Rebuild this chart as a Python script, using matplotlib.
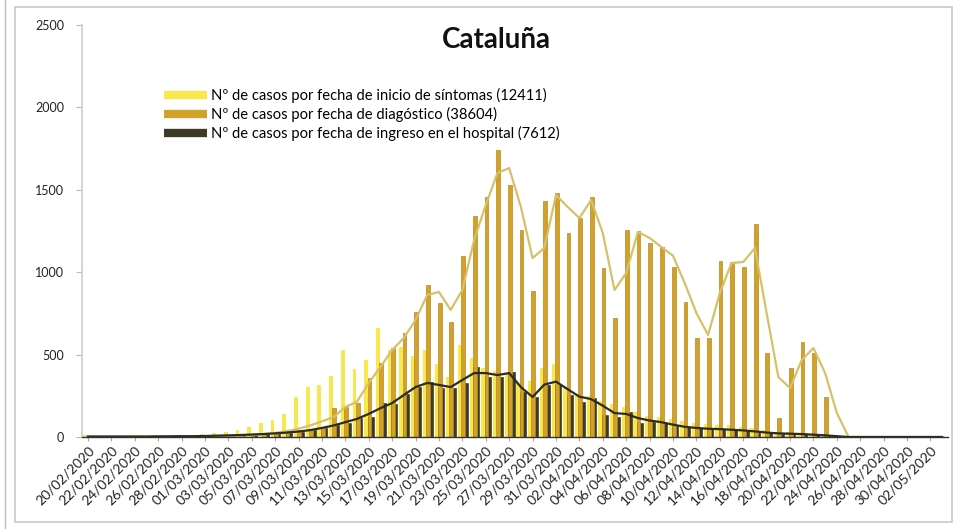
import numpy as np
import pandas as pd
from matplotlib import pyplot as plt
from matplotlib.lines import Line2D
from matplotlib.patches import Rectangle

plt.rcParams['font.family'] = ['Lato', 'DejaVu Sans']

# daily categories 20/02/2020 .. 03/05/2020
dates = pd.date_range('2020-02-20', '2020-05-03', freq='D')
date_labels = [d.strftime('%d/%m/%Y') for d in dates]

# Nº de casos por fecha de inicio de síntomas
sintomas = [15, 5, 3, 3, 4, 5, 6, 8, 10, 14,
            18, 24, 30, 42, 60, 85, 103, 140, 243, 303,
            316, 370, 528, 415, 467, 660, 530, 545, 490, 530,
            440, 365, 560, 480, 420, 400, 380, 330, 340, 420,
            440, 300, 260, 250, 220, 200, 180, 150, 130, 120,
            110, 95, 85, 80, 75, 70, 60, 55, 40, 30,
            28, 25, 20, 15, 10, 5, 0, 0, 0, 0,
            0, 0, 0, 0]

# Nº de casos por fecha de diagnóstico
diagnostico = [2, 0, 1, 1, 2, 2, 2, 2, 3, 3,
               3, 5, 8, 10, 15, 20, 25, 30, 40, 50,
               60, 176, 182, 205, 358, 449, 540, 631, 758, 922,
               813, 698, 1098, 1341, 1456, 1740, 1529, 1256, 886, 1432,
               1480, 1238, 1329, 1456, 1025, 722, 1256, 1250, 1177, 1153,
               1032, 819, 601, 601, 1068, 1062, 1032, 1292, 510, 115,
               419, 577, 510, 243, 0, 0, 0, 0, 0, 0,
               0, 0, 0, 0]

# Nº de casos por fecha de ingreso en el hospital
hospital = [3, 2, 2, 2, 2, 3, 3, 3, 4, 4,
            5, 8, 10, 12, 15, 18, 20, 25, 30, 40,
            55, 73, 85, 115, 121, 206, 200, 260, 303, 334,
            297, 297, 328, 425, 364, 364, 394, 273, 243, 316,
            316, 255, 212, 237, 133, 121, 152, 85, 91, 85,
            73, 60, 55, 50, 50, 45, 40, 35, 25, 20,
            20, 20, 15, 10, 5, 0, 0, 0, 0, 0,
            0, 0, 0, 0]

# smoothed trend lines
diagnostico_tend = [2, 1, 1, 1, 2, 2, 2, 2, 3, 3,
                    4, 5, 7, 9, 12, 17, 25, 35, 50, 70,
                    95, 121, 182, 215, 328, 425, 528, 601, 710, 862,
                    880, 771, 892, 1195, 1408, 1602, 1632, 1396, 1086, 1147,
                    1468, 1396, 1329, 1438, 1238, 892, 995, 1244, 1208, 1153,
                    1100, 934, 752, 619, 874, 1056, 1062, 1147, 752, 364,
                    297, 467, 540, 388, 146, 0, 0, 0, 0, 0,
                    0, 0, 0, 0]
hospital_tend = [3, 3, 3, 3, 3, 3, 4, 4, 5, 5,
                 6, 8, 10, 12, 15, 18, 22, 27, 33, 42,
                 55, 70, 90, 110, 140, 175, 206, 255, 303, 328,
                 316, 303, 346, 388, 388, 376, 388, 303, 243, 318,
                 336, 290, 245, 230, 190, 145, 140, 115, 100, 90,
                 75, 62, 55, 50, 48, 44, 40, 34, 27, 22,
                 20, 18, 14, 10, 5, 0, 0, 0, 0, 0,
                 0, 0, 0, 0]

c_sint = '#f8e84e'
c_diag = '#d1a12a'
c_hosp = '#3d3b26'
c_diag_line = '#d6c06a'
c_hosp_line = '#2b2b20'

fig = plt.figure(figsize=(9.55, 5.29), dpi=100)
ax = fig.add_axes([0.0859, 0.1739, 0.9068, 0.7788])

x = np.arange(len(dates))
ax.bar(x + 0.18, hospital, 0.55, color=c_hosp, edgecolor='#2a2818', linewidth=0.4, zorder=2)
ax.bar(x - 0.22, sintomas, 0.32, color=c_sint, linewidth=0, zorder=3)
ax.bar(x + 0.06, diagnostico, 0.32, color=c_diag, edgecolor='#b88a18', linewidth=0.5, zorder=4)

ax.plot(x, diagnostico_tend, color=c_diag_line, lw=1.6, zorder=5)
ax.plot(x, hospital_tend, color=c_hosp_line, lw=1.6, zorder=6)

ax.set_xlim(-0.5, len(dates) - 0.5)
ax.set_ylim(0, 2500)
ax.set_yticks(range(0, 2501, 500))
ax.set_xticks(x[::2], date_labels[::2], rotation=45, ha='right', rotation_mode='anchor')
ax.tick_params(axis='x', labelsize=10, colors='#222222', length=3, color='#aaaaaa', pad=2)
ax.tick_params(axis='y', labelsize=9, colors='#222222', length=4, color='#bbbbbb', pad=9)

for s in ('top', 'right'):
    ax.spines[s].set_visible(False)
ax.spines['left'].set_color('#cccccc')
ax.spines['left'].set_linewidth(1.2)
ax.spines['bottom'].set_color('#333333')
ax.spines['bottom'].set_linewidth(1.0)
ax.spines['bottom'].set_zorder(7)

handles = [Line2D([], [], color=c_sint, lw=6, solid_capstyle='butt'),
           Line2D([], [], color=c_diag, lw=6, solid_capstyle='butt'),
           Line2D([], [], color=c_hosp, lw=6, solid_capstyle='butt')]
labels = ['Nº de casos por fecha de inicio de síntomas (12411)',
          'Nº de casos por fecha de diagóstico (38604)',
          'Nº de casos por fecha de ingreso en el hospital (7612)']
ax.legend(handles, labels, loc='upper left', bbox_to_anchor=(0.088, 0.862),
          frameon=False, fontsize=10.6, handlelength=2.9, handletextpad=0.3,
          labelspacing=0.28, borderaxespad=0)

fig.text(0.52, 0.925, 'Cataluña', ha='center', va='center',
         fontsize=20, fontweight='bold', color='#111111')

# outer chart frame
fig.patches.append(Rectangle((15 / 955, 7 / 529), 937 / 955, 515 / 529,
                             transform=fig.transFigure, fill=False,
                             edgecolor='#c8c8c8', linewidth=1.2))
fig.add_artist(Line2D([5 / 955, 5 / 955], [0, 1], transform=fig.transFigure,
                      color='#bbbbbb', lw=1.0))

fig.savefig('out.png', dpi=100)
